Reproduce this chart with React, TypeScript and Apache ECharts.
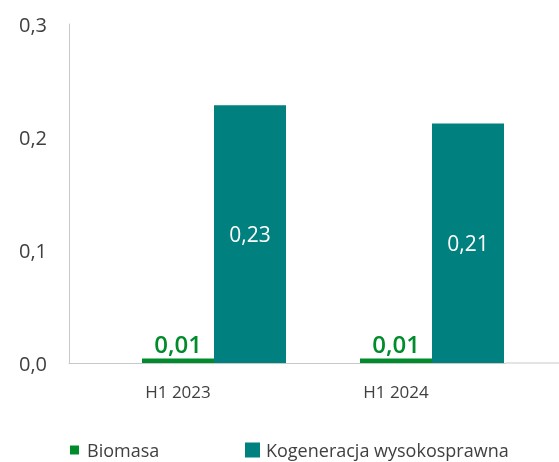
import React, { useEffect, useRef } from "react";
import * as echarts from "echarts";

const categories = ["H1 2023", "H1 2024"];
const biomasaValues = [0.004, 0.004];
const biomasaLabels = ["0,01", "0,01"];
const kogeneracjaValues = [0.228, 0.212];
const kogeneracjaLabels = ["0,23", "0,21"];
const yTicks = [0, 0.1, 0.2, 0.3];

const FONT = "'Open Sans', sans-serif";
const GREEN = "#008c2c";
const TEAL = "#00807f";
const TEXT = "#404040";

export default function App() {
  const ref = useRef<HTMLDivElement>(null);
  useEffect(() => {
    if (!ref.current) return;
    const chart = echarts.init(ref.current, undefined, { renderer: "svg" });
    chart.setOption({
      animation: false,
      textStyle: { fontFamily: FONT },
      grid: { left: 69, right: 54, top: 24, bottom: 99, containLabel: false },
      legend: [
        {
          data: ["Biomasa"],
          left: 65,
          top: 436,
          itemWidth: 9,
          itemHeight: 9,
          icon: "rect",
          textStyle: { fontFamily: FONT, fontSize: 18, color: TEXT, padding: [0, 0, 0, 3] },
        },
        {
          data: ["Kogeneracja wysokosprawna"],
          left: 240,
          top: 436,
          itemWidth: 15,
          itemHeight: 15,
          icon: "rect",
          textStyle: { fontFamily: FONT, fontSize: 18, color: TEXT, padding: [0, 0, 0, 1] },
        },
      ],
      xAxis: {
        type: "category",
        data: categories,
        axisLine: { show: true, lineStyle: { color: "#c8c8c8", width: 1 } },
        axisTick: { show: false },
        axisLabel: { fontFamily: FONT, fontSize: 17, color: TEXT, margin: 20 },
      },
      yAxis: {
        type: "value",
        min: yTicks[0],
        max: yTicks[yTicks.length - 1],
        interval: 0.1,
        axisLine: { show: true, lineStyle: { color: "#c8c8c8", width: 1 } },
        axisTick: { show: false },
        splitLine: { show: false },
        axisLabel: {
          fontFamily: FONT,
          fontSize: 20,
          color: TEXT,
          margin: 22,
          formatter: (v: number) => v.toFixed(1).replace(".", ","),
        },
      },
      series: [
        {
          name: "_spacer",
          type: "bar",
          data: categories.map(() => null),
          barWidth: 72,
          barGap: "0%",
          silent: true,
        },
        {
          name: "Biomasa",
          type: "bar",
          data: biomasaValues,
          barWidth: 72,
          barGap: "0%",
          itemStyle: { color: GREEN },
          label: {
            show: true,
            position: "top",
            distance: 3,
            fontFamily: FONT,
            fontSize: 24,
            fontWeight: 600,
            color: GREEN,
            formatter: (p: any) => biomasaLabels[p.dataIndex],
          },
        },
        {
          name: "Kogeneracja wysokosprawna",
          type: "bar",
          data: kogeneracjaValues,
          barWidth: 72,
          barGap: "0%",
          itemStyle: { color: TEAL },
          label: {
            show: true,
            position: "inside",
            fontFamily: FONT,
            fontSize: 21,
            color: "#ffffff",
            formatter: (p: any) => kogeneracjaLabels[p.dataIndex],
          },
        },
      ],
    });
    // extend the baseline to the right edge as in the original
    const base = chart.convertToPixel({ gridIndex: 0 }, [categories.length - 0.5, 0]) as number[];
    const gridRight = chart.getWidth() - 54;
    chart.setOption({
      graphic: [
        {
          type: "line",
          shape: { x1: gridRight, y1: base[1], x2: chart.getWidth(), y2: base[1] },
          style: { stroke: "#c8c8c8", lineWidth: 1 },
          silent: true,
        },
      ],
    });
    return () => chart.dispose();
  }, []);
  return (
    <div
      ref={ref}
      style={{ position: "fixed", left: 0, top: 0, width: 559, height: 462 }}
    />
  );
}
